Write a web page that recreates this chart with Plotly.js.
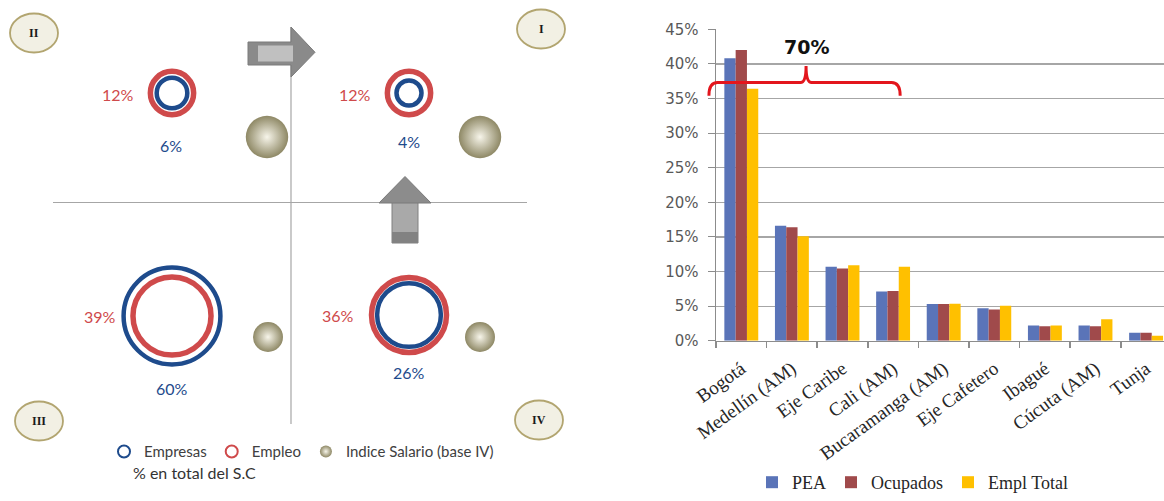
<!DOCTYPE html>
<html><head><meta charset="utf-8">
<script src="https://cdn.plot.ly/plotly-3.0.1.min.js"></script>
<style>html,body{margin:0;padding:0;background:#fff;} #chart{width:1164px;height:501px;}</style>
</head><body><div id="chart"></div>
<script>
// ---------- Bar chart data ----------
const regions = ['Bogotá','Medellín (AM)','Eje Caribe','Cali (AM)','Bucaramanga (AM)','Eje Cafetero','Ibagué','Cúcuta (AM)','Tunja'];
const pea       = [40.8, 16.6, 10.7, 7.1, 5.3, 4.7, 2.2, 2.2, 1.15];
const ocupados  = [42.0, 16.4, 10.45, 7.2, 5.3, 4.5, 2.1, 2.1, 1.15];
const emplTotal = [36.4, 15.1, 10.9, 10.7, 5.35, 5.05, 2.2, 3.1, 0.7];
const yTicks = [0, 5, 10, 15, 20, 25, 30, 35, 40, 45];
const yTickText = yTicks.map(v => v + '%');
const braceLabel = '70%';

// ---------- Quadrant diagram data ----------
const quadrants = ['I', 'II', 'III', 'IV'];
const empresas = [4, 6, 60, 26];
const empleo = [12, 12, 39, 36];
const indiceSalario = [2.0, 2.0, 1.0, 1.0];
const diagramNote = '% en total del S.C';

// ---------- Layout positions (diagram canvas units = px) ----------
const ringX = [409, 172, 172, 409], ringY = [93, 93, 316, 315];
const sphereX = [480, 267, 268, 480], sphereY = [137, 137, 337, 337];
const badgeX = [541, 34, 39, 539], badgeY = [29, 33, 421, 420];
const empleoLblX = [355, 118, 100, 338], empleoLblY = [94, 94, 316, 315];
const empresasLblX = [409, 171, 172, 409], empresasLblY = [141, 145, 388, 372];

const BLUE = '#1E4B8C', RED = '#CF4A4B';
const W = 1164, H = 501;
const idx = regions.map((_, i) => i);
const bounds = [-0.5].concat(regions.map((_, i) => i + 0.5));
const xDomain = [716/W, 1], xRange = [-0.5, 8.354];
// convert a bar-axis x value to paper fraction (for the unclipped brace)
const xp = v => xDomain[0] + (v - xRange[0]) / (xRange[1] - xRange[0]) * (xDomain[1] - xDomain[0]);

const traces = [
  {type:'bar', name:'PEA', x: idx, y: pea, marker:{color:'#5A74B8'}, hoverinfo:'skip'},
  {type:'bar', name:'Ocupados', x: idx, y: ocupados, marker:{color:'#A04A4B'}, hoverinfo:'skip'},
  {type:'bar', name:'Empl Total', x: idx, y: emplTotal, marker:{color:'#FFC000'}, hoverinfo:'skip'},
  {type:'scatter', mode:'markers', name:'Empresas', legend:'legend2', x: ringX, y: ringY, xaxis:'x2', yaxis:'y2',
   marker:{symbol:'circle-open', size: empresas, sizemode:'area', sizeref: 0.0128, opacity:1, color: BLUE, line:{width:4.5, color: BLUE}},
   hoverinfo:'skip', cliponaxis:false},
  {type:'scatter', mode:'markers', name:'Empleo', legend:'legend2', x: ringX, y: ringY, xaxis:'x2', yaxis:'y2',
   marker:{symbol:'circle-open', size: empleo, sizemode:'area', sizeref: 0.0128, opacity:1, color: RED, line:{width:5.5, color: RED}},
   hoverinfo:'skip', cliponaxis:false},
  {type:'scatter', mode:'markers', name:'Indice Salario (base IV)', legend:'legend2', x: sphereX, y: sphereY, xaxis:'x2', yaxis:'y2',
   marker:{symbol:'circle', size: indiceSalario, sizemode:'area', sizeref: 1/450, opacity:1, color:'#8E8865',
           gradient:{type:'radial', color:'#F7F5EA'}, line:{width:0}},
   hoverinfo:'skip', cliponaxis:false}
];

const shapes = [];
const gridGray = '#A6A6A6';
// quadrant axes
shapes.push({type:'line', xref:'x2', yref:'y2', x0:291, x1:291, y0:27, y1:424, line:{color:gridGray, width:1.2}, layer:'below'});
shapes.push({type:'line', xref:'x2', yref:'y2', x0:53, x1:527, y0:202.5, y1:202.5, line:{color:gridGray, width:1.2}, layer:'below'});
// right arrow
shapes.push({type:'path', xref:'x2', yref:'y2', path:'M248,42 L291,42 L291,27 L315,52.3 L291,77 L291,65 L248,65 Z', fillcolor:'#8A8A8A', line:{color:'#7A7A7A', width:1}});
shapes.push({type:'rect', xref:'x2', yref:'y2', x0:258, x1:293, y0:45.5, y1:61.5, fillcolor:'#C0C0C0', line:{width:0}});
// up arrow
shapes.push({type:'rect', xref:'x2', yref:'y2', x0:392, x1:418, y0:202, y1:243, fillcolor:'#A9A9A9', line:{color:'#808080', width:1}});
shapes.push({type:'rect', xref:'x2', yref:'y2', x0:392, x1:418, y0:232, y1:243, fillcolor:'#828282', line:{width:0}});
shapes.push({type:'path', xref:'x2', yref:'y2', path:'M379,203 L405,176.5 L431,203 Z', fillcolor:'#8C8C8C', line:{color:'#7A7A7A', width:1}});
// quadrant badges
quadrants.forEach((q, i) => {
  shapes.push({type:'circle', xref:'x2', yref:'y2', x0:badgeX[i]-24, x1:badgeX[i]+24, y0:badgeY[i]-19.5, y1:badgeY[i]+19.5,
    fillcolor:'#F2F0E4', line:{color:'#B2A570', width:1.8}});
});
// brace over bars (x in paper so the left end is not clipped)
const bx0 = xp(-0.64), bx1 = xp(3.14), bpk = xp(1.28), bd = xp(0.17) - xp(0), bd2 = xp(0.11) - xp(0);
shapes.push({type:'path', xref:'paper', yref:'y', layer:'above',
  path:`M ${bx0},35.4 Q ${bx0},37.3 ${bx0+bd},37.3 L ${bpk-bd2},37.3 Q ${bpk},37.3 ${bpk},39.7 Q ${bpk},37.3 ${bpk+bd2},37.3 L ${bx1-bd},37.3 Q ${bx1},37.3 ${bx1},35.4`,
  line:{color:'#E3161D', width:3}});

const annotations = [];
quadrants.forEach((q, i) => {
  annotations.push({xref:'x2', yref:'y2', x:badgeX[i], y:badgeY[i], text:q, showarrow:false,
    font:{family:'Liberation Serif', size:12, color:'#1A1A1A', weight:'bold'}});
  annotations.push({xref:'x2', yref:'y2', x:empleoLblX[i], y:empleoLblY[i], text: empleo[i] + '%', showarrow:false,
    font:{family:'Lato', size:16, color:RED}});
  annotations.push({xref:'x2', yref:'y2', x:empresasLblX[i], y:empresasLblY[i], text: empresas[i] + '%', showarrow:false,
    font:{family:'Lato', size:16, color:BLUE}});
});
annotations.push({xref:'x2', yref:'y2', x:131, y:472, xanchor:'left', text: diagramNote, showarrow:false,
  font:{family:'Lato', size:16, color:'#333333'}});
annotations.push({xref:'x', yref:'y', x:1.28, y:42.4, text: braceLabel, showarrow:false,
  font:{family:'DejaVu Sans', size:19, color:'#111111', weight:'bold'}});

const layout = {
  width: W, height: H, margin:{l:0, r:0, t:0, b:0}, paper_bgcolor:'#FFFFFF', plot_bgcolor:'rgba(0,0,0,0)',
  barmode:'group', bargap:0.33, bargroupgap:0,
  xaxis:{domain:xDomain, range:xRange, tickmode:'array', tickvals: idx, ticktext: regions, tickangle:-36,
    tickfont:{family:'Liberation Serif', size:19, color:'#262626'}, ticks:'', showgrid:false, zeroline:false,
    showline:true, linecolor:'#8C8C8C', linewidth:1.5, ticklabelstandoff:8,
    minor:{tickmode:'array', tickvals: bounds, ticks:'outside', ticklen:6, tickcolor:'#8C8C8C', tickwidth:1.5, showgrid:false},
    fixedrange:true},
  yaxis:{domain:[1-340.7/H, 1-29.3/H], range:[0, 45], tickmode:'array', tickvals: yTicks, ticktext: yTickText,
    ticks:'outside', ticklen:7, tickcolor:'#8C8C8C', showgrid:true, gridcolor:gridGray, gridwidth:1.2,
    showline:true, linecolor:'#8C8C8C', linewidth:1.5, zeroline:false, ticklabelstandoff:6,
    tickfont:{family:'DejaVu Sans', size:15, color:'#595959'}, fixedrange:true},
  xaxis2:{domain:[0, 580/W], range:[0, 580], visible:false, fixedrange:true, anchor:'y2'},
  yaxis2:{domain:[0, 1], range:[H, 0], visible:false, fixedrange:true, anchor:'x2'},
  legend:{orientation:'h', x:752/W, y:0, xanchor:'left', yanchor:'bottom', itemwidth:30, traceorder:'normal',
    font:{family:'Liberation Serif', size:18, color:'#262626'}, bgcolor:'rgba(0,0,0,0)'},
  legend2:{orientation:'h', x:104/W, y:1-451.7/H, xanchor:'left', yanchor:'middle', itemwidth:30, itemsizing:'constant',
    traceorder:'normal', font:{family:'Lato', size:15, color:'#404040'}, bgcolor:'rgba(0,0,0,0)'},
  shapes: shapes, annotations: annotations, showlegend:true
};

Plotly.newPlot('chart', traces, layout, {displayModeBar:false, staticPlot:true});
</script></body></html>
